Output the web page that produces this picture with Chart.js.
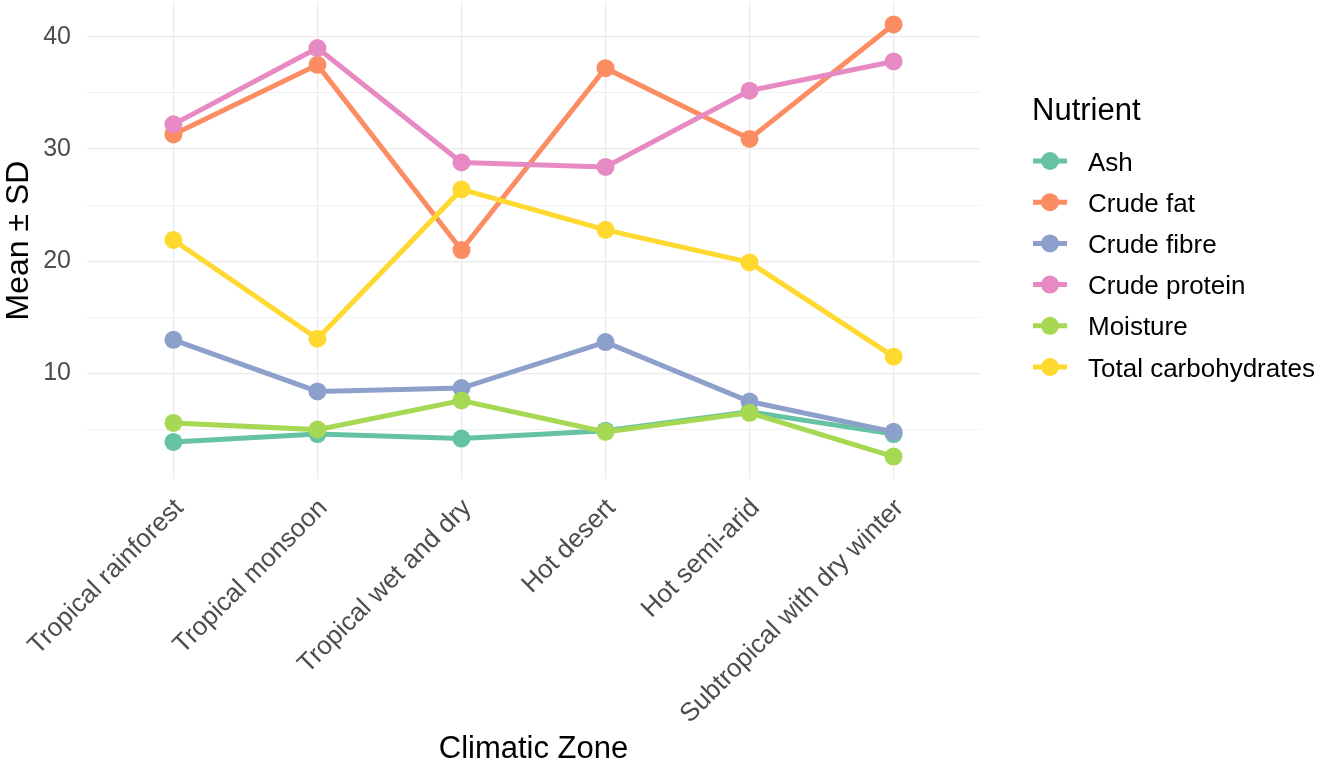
<!DOCTYPE html>
<html>
<head>
<meta charset="utf-8">
<script src="https://cdn.jsdelivr.net/npm/chart.js@4"></script>
<style>
  html, body { margin: 0; padding: 0; background: #ffffff; }
  #wrap { width: 1323px; height: 770px; position: relative; }
</style>
</head>
<body>
<div id="wrap"><canvas id="c" width="1323" height="770"></canvas></div>
<script>
// ---- data ----
const categories = ["Tropical rainforest", "Tropical monsoon", "Tropical wet and dry", "Hot desert", "Hot semi-arid", "Subtropical with dry winter"];
const nutrients = ["Ash", "Crude fat", "Crude fibre", "Crude protein", "Moisture", "Total carbohydrates"];
const ash          = [3.9, 4.6, 4.2, 4.9, 6.6, 4.6];
const crudeFat     = [31.3, 37.5, 21.0, 37.2, 30.9, 41.1];
const crudeFibre   = [13.0, 8.4, 8.7, 12.8, 7.5, 4.8];
const crudeProtein = [32.2, 39.0, 28.8, 28.4, 35.2, 37.8];
const moisture     = [5.6, 5.0, 7.6, 4.8, 6.5, 2.6];
const totalCarbs   = [21.9, 13.1, 26.4, 22.8, 19.9, 11.5];
const yTickValues  = [5, 10, 15, 20, 25, 30, 35, 40];
const yLabelValues = [10, 20, 30, 40];

const seriesValues = [ash, crudeFat, crudeFibre, crudeProtein, moisture, totalCarbs];
const colors = ["#66C2A5", "#FC8D62", "#8DA0CB", "#E78AC3", "#A6D854", "#FFD92F"];

const FONT = "'Liberation Sans', Arial, 'DejaVu Sans', sans-serif";

const datasets = nutrients.map((name, i) => ({
  label: name,
  data: seriesValues[i].map((v, k) => ({ x: k, y: v })),
  borderColor: colors[i],
  backgroundColor: colors[i],
  pointBackgroundColor: colors[i],
  pointBorderColor: colors[i],
  borderWidth: 5,
  pointRadius: 9,
  pointBorderWidth: 0,
  pointHoverRadius: 9,
  tension: 0,
  fill: false,
  order: nutrients.length - i,
  clip: false
}));

const legendPlugin = {
  id: 'ggLegend',
  afterDraw(chart) {
    const ctx = chart.ctx;
    ctx.save();
    ctx.fillStyle = '#000000';
    ctx.textAlign = 'left';
    ctx.textBaseline = 'alphabetic';
    ctx.font = `31px ${FONT}`;
    ctx.fillText('Nutrient', 1032, 120);
    ctx.font = `26px ${FONT}`;
    chart.data.datasets.forEach((ds, i) => {
      const cy = 161 + i * 41.2;
      ctx.strokeStyle = ds.borderColor;
      ctx.lineWidth = 5;
      ctx.beginPath();
      ctx.moveTo(1033, cy);
      ctx.lineTo(1067, cy);
      ctx.stroke();
      ctx.fillStyle = ds.borderColor;
      ctx.beginPath();
      ctx.arc(1050, cy, 9, 0, Math.PI * 2);
      ctx.fill();
      ctx.fillStyle = '#000000';
      ctx.fillText(ds.label, 1088, cy + 9.5);
    });
    ctx.restore();
  }
};

new Chart(document.getElementById('c'), {
  type: 'line',
  data: { datasets },
  plugins: [legendPlugin],
  options: {
    responsive: false,
    animation: false,
    devicePixelRatio: 1,
    layout: { autoPadding: false, padding: { top: 2, right: 343, left: 0, bottom: 0 } },
    plugins: { legend: { display: false }, tooltip: { enabled: false } },
    scales: {
      x: {
        type: 'linear',
        min: -0.6,
        max: 5.6,
        afterBuildTicks: (scale) => { scale.ticks = categories.map((c, i) => ({ value: i })); },
        afterFit: (scale) => { scale.height = 291; scale.paddingLeft = 0; scale.paddingRight = 0; scale.paddingTop = 0; scale.paddingBottom = 0; },
        grid: { color: '#EBEBEB', lineWidth: 1.2, drawTicks: false },
        border: { display: false },
        ticks: {
          callback: (v) => categories[v],
          minRotation: 45,
          maxRotation: 45,
          autoSkip: false,
          padding: 14,
          labelOffset: 6,
          color: '#4D4D4D',
          font: { family: FONT, size: 26 }
        },
        title: {
          display: true,
          text: 'Climatic Zone',
          color: '#000000',
          font: { family: FONT, size: 31 },
          padding: { top: 0, bottom: 2 }
        }
      },
      y: {
        type: 'linear',
        min: 0.6,
        max: 43.1,
        afterBuildTicks: (scale) => { scale.ticks = yTickValues.map(v => ({ value: v })); },
        afterFit: (scale) => { scale.width = 87; scale.paddingTop = 0; scale.paddingBottom = 0; scale.paddingLeft = 0; scale.paddingRight = 0; },
        grid: {
          color: '#EBEBEB',
          lineWidth: (c) => (c.tick && yLabelValues.includes(c.tick.value)) ? 1.2 : 0.7,
          drawTicks: false
        },
        border: { display: false },
        ticks: {
          callback: (v) => yLabelValues.includes(v) ? String(v) : '',
          padding: 16,
          color: '#4D4D4D',
          font: { family: FONT, size: 25 }
        },
        title: {
          display: true,
          text: 'Mean ± SD',
          color: '#000000',
          font: { family: FONT, size: 32 },
          padding: { top: 0, bottom: 0 }
        }
      }
    }
  }
});
</script>
</body>
</html>
